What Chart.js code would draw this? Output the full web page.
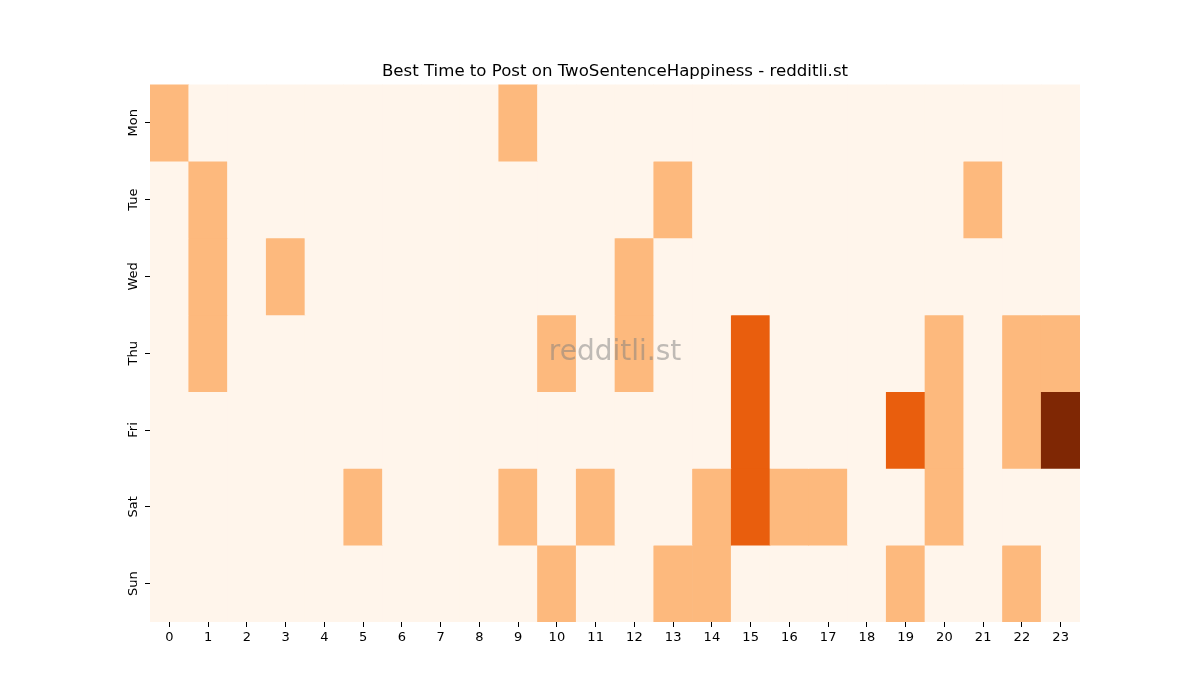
<!DOCTYPE html>
<html>
<head>
<meta charset="utf-8">
<script src="https://cdn.jsdelivr.net/npm/chart.js@4"></script>
<style>
  html, body { margin: 0; padding: 0; background: #ffffff; }
  #wrap { width: 1200px; height: 700px; }
</style>
</head>
<body>
<div id="wrap"><canvas id="heatChart" width="1200" height="700"></canvas></div>
<script>
// =========================================
// Data
// =========================================

const hours = [
    "0", "1", "2", "3", "4", "5", "6", "7", "8", "9", "10", "11",
    "12", "13", "14", "15", "16", "17", "18", "19", "20", "21", "22", "23"
];

const days = ["Mon", "Tue", "Wed", "Thu", "Fri", "Sat", "Sun"];

const mon = [1,0,0,0,0,0,0,0,0,1,0,0,0,0,0,0,0,0,0,0,0,0,0,0];
const tue = [0,1,0,0,0,0,0,0,0,0,0,0,0,1,0,0,0,0,0,0,0,1,0,0];
const wed = [0,1,0,1,0,0,0,0,0,0,0,0,1,0,0,0,0,0,0,0,0,0,0,0];
const thu = [0,1,0,0,0,0,0,0,0,0,1,0,1,0,0,2,0,0,0,0,1,0,1,1];
const fri = [0,0,0,0,0,0,0,0,0,0,0,0,0,0,0,2,0,0,0,2,1,0,1,3];
const sat = [0,0,0,0,0,1,0,0,0,1,0,1,0,0,1,2,1,1,0,0,1,0,0,0];
const sun = [0,0,0,0,0,0,0,0,0,0,1,0,0,1,1,0,0,0,0,1,0,0,1,0];

const rows = [mon, tue, wed, thu, fri, sat, sun];

// Oranges colormap sampled at 0, 1/3, 2/3, 1
const palette = ["#fff5eb", "#fdb97d", "#e95e0d", "#7f2704"];

// =========================================
// Heatmap (floating bars, one dataset per day)
// =========================================

const datasets = rows.map((values, d) => ({
    label: days[d],
    data: values.map(() => [d, d + 1]),
    backgroundColor: values.map(v => palette[v]),
    borderWidth: 0,
    barPercentage: 1.0,
    categoryPercentage: 1.0,
    grouped: false
}));

const watermark = {
    id: "watermark",
    afterDatasetsDraw(chart) {
        const { ctx, chartArea } = chart;
        ctx.save();
        ctx.font = "28px 'DejaVu Sans'";
        ctx.fillStyle = "rgba(128, 128, 128, 0.5)";
        ctx.textAlign = "center";
        ctx.textBaseline = "middle";
        ctx.fillText(
            "redditli.st",
            (chartArea.left + chartArea.right) / 2,
            (chartArea.top + chartArea.bottom) / 2
        );
        ctx.restore();
    }
};

const heatCanvas = document.getElementById("heatChart");

new Chart(heatCanvas, {

    type: "bar",

    data: {
        labels: hours,
        datasets: datasets
    },

    plugins: [watermark],

    options: {
        responsive: false,
        animation: false,
        layout: {
            padding: { top: 50, left: 115, right: 120, bottom: 48 }
        },
        plugins: {
            legend: { display: false },
            tooltip: { enabled: false },
            title: {
                display: true,
                fullSize: false,
                text: "Best Time to Post on TwoSentenceHappiness - redditli.st",
                color: "#000000",
                font: { family: "DejaVu Sans", size: 16.6, weight: "normal" },
                padding: { top: 12, bottom: 2.5 }
            }
        },
        scales: {
            x: {
                offset: true,
                grid: {
                    display: true,
                    drawOnChartArea: false,
                    drawTicks: true,
                    tickLength: 5,
                    tickColor: "#000000",
                    offset: false
                },
                border: { display: false },
                ticks: {
                    color: "#000000",
                    padding: 3,
                    maxRotation: 0,
                    autoSkip: false,
                    font: { family: "DejaVu Sans", size: 13 }
                },
                afterFit(scale) { scale.height = 30; }
            },
            y: {
                type: "linear",
                min: 0,
                max: 7,
                reverse: true,
                grid: {
                    display: true,
                    drawOnChartArea: false,
                    drawTicks: true,
                    tickLength: 5,
                    tickColor: "#000000"
                },
                border: { display: false },
                afterBuildTicks(scale) {
                    scale.ticks = days.map((d, i) => ({ value: i + 0.5 }));
                },
                ticks: {
                    color: "#000000",
                    padding: -3,
                    minRotation: 90,
                    maxRotation: 90,
                    autoSkip: false,
                    crossAlign: "center",
                    font: { family: "DejaVu Sans", size: 13 },
                    callback(value) {
                        return days[Math.floor(value)];
                    }
                },
                afterFit(scale) { scale.width = 35; }
            }
        }
    }
});
</script>
</body>
</html>
